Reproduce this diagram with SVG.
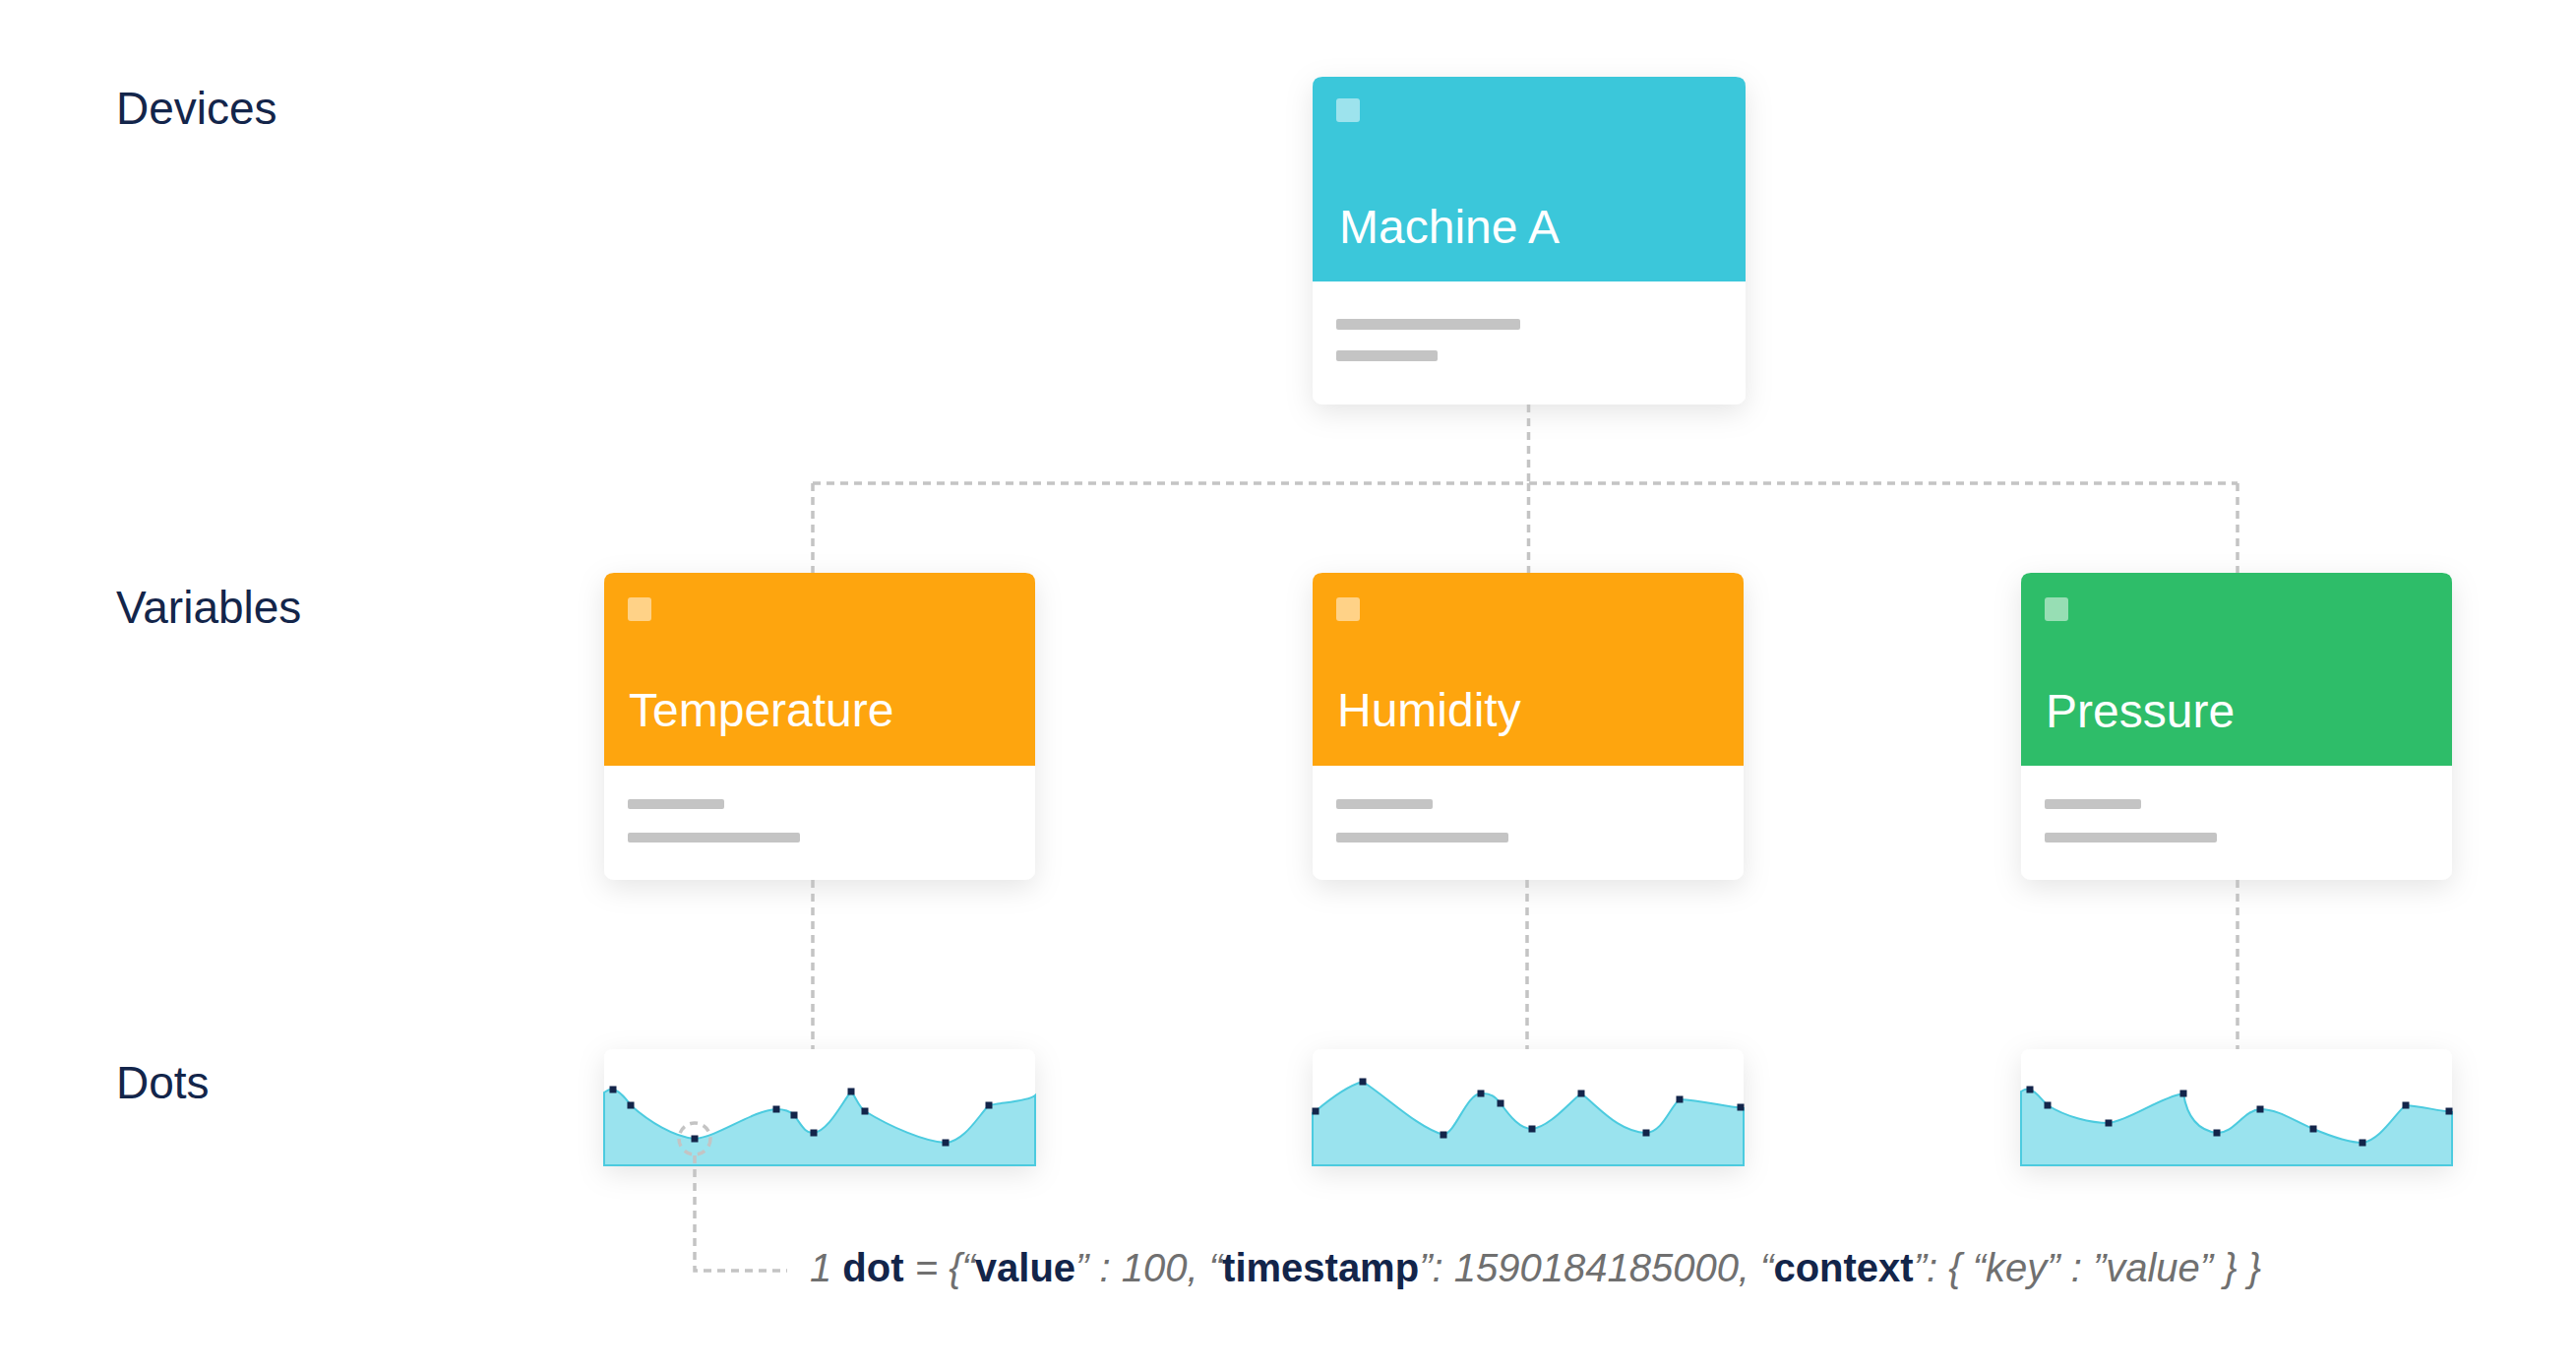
<svg xmlns="http://www.w3.org/2000/svg" width="2618" height="1394" viewBox="0 0 2618 1394">
  <defs>
    <filter id="shadow" x="-20%" y="-25%" width="140%" height="160%">
      <feDropShadow dx="0" dy="8" stdDeviation="14" flood-color="#000" flood-opacity="0.10"/>
    </filter>
    <style>
      .label { font-family: "Liberation Sans", Arial, sans-serif; font-size: 46px; fill: #13254a; }
      .title { font-family: "Liberation Sans", Arial, sans-serif; font-size: 48px; fill: #ffffff; }
      .card { fill: #ffffff; filter: url(#shadow); }
      .icon { fill: #ffffff; fill-opacity: 0.5; }
      .bar { fill: #c4c4c4; }
      .conn { fill: none; stroke: #c4c4c4; stroke-width: 3.5; stroke-dasharray: 8 6; }
      .area { fill: #9ae3ee; stroke: #4ccbdf; stroke-width: 2; }
      .pt { fill: #13254a; }
      .code { font-family: "Liberation Sans", Arial, sans-serif; font-size: 40px; }
      .g { fill: #707070; font-style: italic; }
      .n { fill: #13254a; font-weight: bold; }
    </style>
  </defs>
  <rect width="2618" height="1394" fill="#ffffff"/>

  <g id="level-labels">
    <text class="label" x="118" y="126">Devices</text>
    <text class="label" x="118" y="633">Variables</text>
    <text class="label" x="118" y="1116">Dots</text>
  </g>

  <g id="machine-a">
    <rect class="card" x="1334" y="78" width="440" height="333" rx="10"/>
    <path d="M1334,286 V88 Q1334,78 1344,78 H1764 Q1774,78 1774,88 V286 Z" fill="#3bc7da"/>
    <rect class="icon" x="1358" y="100" width="24" height="24" rx="3"/>
    <text class="title" x="1361" y="247">Machine A</text>
    <rect class="bar" x="1358" y="324" width="187" height="11" rx="2"/>
    <rect class="bar" x="1358" y="356" width="103" height="11" rx="2"/>
  </g>

  <g id="temperature">
    <rect class="card" x="614" y="582" width="438" height="312" rx="10"/>
    <path d="M614,778 V592 Q614,582 624,582 H1042 Q1052,582 1052,592 V778 Z" fill="#fea50e"/>
    <rect class="icon" x="638" y="607" width="24" height="24" rx="3"/>
    <text class="title" x="639" y="738">Temperature</text>
    <rect class="bar" x="638" y="812" width="98" height="10" rx="2"/>
    <rect class="bar" x="638" y="846" width="175" height="10" rx="2"/>
  </g>

  <g id="humidity">
    <rect class="card" x="1334" y="582" width="438" height="312" rx="10"/>
    <path d="M1334,778 V592 Q1334,582 1344,582 H1762 Q1772,582 1772,592 V778 Z" fill="#fea50e"/>
    <rect class="icon" x="1358" y="607" width="24" height="24" rx="3"/>
    <text class="title" x="1359" y="738">Humidity</text>
    <rect class="bar" x="1358" y="812" width="98" height="10" rx="2"/>
    <rect class="bar" x="1358" y="846" width="175" height="10" rx="2"/>
  </g>

  <g id="pressure">
    <rect class="card" x="2054" y="582" width="438" height="312" rx="10"/>
    <path d="M2054,778 V592 Q2054,582 2064,582 H2482 Q2492,582 2492,592 V778 Z" fill="#2ebd69"/>
    <rect class="icon" x="2078" y="607" width="24" height="24" rx="3"/>
    <text class="title" x="2079" y="739">Pressure</text>
    <rect class="bar" x="2078" y="812" width="98" height="10" rx="2"/>
    <rect class="bar" x="2078" y="846" width="175" height="10" rx="2"/>
  </g>

  <g id="temperature-dots">
    <path class="card" d="M614,1184 V1076 Q614,1066 624,1066 H1042 Q1052,1066 1052,1076 V1184 Z"/>
    <path class="area" d="M614,1110 C617,1108 620,1106 623,1107 C630,1108 636,1116 641,1123 C660,1140 685,1155 706,1157 C730,1155 765,1128 789,1127 C798,1127 804,1130 807,1133 C814,1142 818,1152 827,1151 C842,1149 856,1120 865,1109 C870,1115 873,1125 879,1129 C905,1145 940,1160 961,1161 C980,1160 995,1133 1005,1123 C1020,1120 1045,1119 1052,1113 L1052,1184 L614,1184 Z"/>
    <g class="pt">
      <rect x="619.5" y="1103.5" width="7" height="7"/>
      <rect x="637.5" y="1119.5" width="7" height="7"/>
      <rect x="702.5" y="1153.5" width="7" height="7"/>
      <rect x="785.5" y="1123.5" width="7" height="7"/>
      <rect x="803.5" y="1129.5" width="7" height="7"/>
      <rect x="823.5" y="1147.5" width="7" height="7"/>
      <rect x="861.5" y="1105.5" width="7" height="7"/>
      <rect x="875.5" y="1125.5" width="7" height="7"/>
      <rect x="957.5" y="1157.5" width="7" height="7"/>
      <rect x="1001.5" y="1119.5" width="7" height="7"/>
    </g>
  </g>

  <g id="humidity-dots">
    <path class="card" d="M1334,1184 V1076 Q1334,1066 1344,1066 H1762 Q1772,1066 1772,1076 V1184 Z"/>
    <path class="area" d="M1334,1131 C1336,1130 1336,1130 1337,1129 C1350,1118 1370,1103 1385,1099 C1410,1115 1440,1145 1467,1153 C1480,1150 1490,1112 1505,1111 C1515,1110 1520,1115 1525,1121 C1535,1135 1545,1147 1557,1147 C1575,1145 1595,1120 1607,1111 C1625,1125 1645,1150 1673,1151 C1690,1150 1697,1125 1707,1117 C1730,1118 1750,1124 1772,1126 L1772,1184 L1334,1184 Z"/>
    <g class="pt">
      <rect x="1333.5" y="1125.5" width="7" height="7"/>
      <rect x="1381.5" y="1095.5" width="7" height="7"/>
      <rect x="1463.5" y="1149.5" width="7" height="7"/>
      <rect x="1501.5" y="1107.5" width="7" height="7"/>
      <rect x="1521.5" y="1117.5" width="7" height="7"/>
      <rect x="1553.5" y="1143.5" width="7" height="7"/>
      <rect x="1603.5" y="1107.5" width="7" height="7"/>
      <rect x="1669.5" y="1147.5" width="7" height="7"/>
      <rect x="1703.5" y="1113.5" width="7" height="7"/>
      <rect x="1765.5" y="1121.5" width="7" height="7"/>
    </g>
  </g>

  <g id="pressure-dots">
    <path class="card" d="M2054,1184 V1076 Q2054,1066 2064,1066 H2482 Q2492,1066 2492,1076 V1184 Z"/>
    <path class="area" d="M2054,1109 C2057,1107 2060,1106 2063,1107 C2070,1109 2075,1118 2081,1123 C2100,1135 2125,1141 2143,1141 C2165,1138 2195,1115 2219,1111 C2222,1130 2230,1148 2253,1151 C2270,1152 2280,1128 2297,1127 C2315,1127 2330,1138 2351,1147 C2370,1155 2390,1161 2401,1161 C2420,1158 2435,1130 2445,1123 C2460,1124 2475,1128 2492,1130 L2492,1184 L2054,1184 Z"/>
    <g class="pt">
      <rect x="2059.5" y="1103.5" width="7" height="7"/>
      <rect x="2077.5" y="1119.5" width="7" height="7"/>
      <rect x="2139.5" y="1137.5" width="7" height="7"/>
      <rect x="2215.5" y="1107.5" width="7" height="7"/>
      <rect x="2249.5" y="1147.5" width="7" height="7"/>
      <rect x="2293.5" y="1123.5" width="7" height="7"/>
      <rect x="2347.5" y="1143.5" width="7" height="7"/>
      <rect x="2397.5" y="1157.5" width="7" height="7"/>
      <rect x="2441.5" y="1119.5" width="7" height="7"/>
      <rect x="2485.5" y="1125.5" width="7" height="7"/>
    </g>
  </g>

  <g id="connectors">
    <line class="conn" x1="1553.5" y1="411" x2="1553.5" y2="491"/>
    <line class="conn" x1="826" y1="491" x2="2274" y2="491"/>
    <line class="conn" x1="826" y1="491" x2="826" y2="582"/>
    <line class="conn" x1="1553.5" y1="491" x2="1553.5" y2="582"/>
    <line class="conn" x1="2274" y1="491" x2="2274" y2="582"/>
    <line class="conn" x1="826" y1="894" x2="826" y2="1066"/>
    <line class="conn" x1="1552" y1="894" x2="1552" y2="1066"/>
    <line class="conn" x1="2274" y1="894" x2="2274" y2="1066"/>
    <circle class="conn" cx="706" cy="1157" r="16" stroke-dasharray="6 6"/>
    <path class="conn" d="M706,1174 V1291 H800"/>
  </g>

  <g id="dot-format">
    <text class="code" x="823" y="1302"><tspan class="g">1 </tspan><tspan class="n">dot</tspan><tspan class="g"> = {“</tspan><tspan class="n">value</tspan><tspan class="g">” : 100, “</tspan><tspan class="n">timestamp</tspan><tspan class="g">”: 1590184185000, “</tspan><tspan class="n">context</tspan><tspan class="g">”: { “key” : ”value” } }</tspan></text>
  </g>
</svg>
